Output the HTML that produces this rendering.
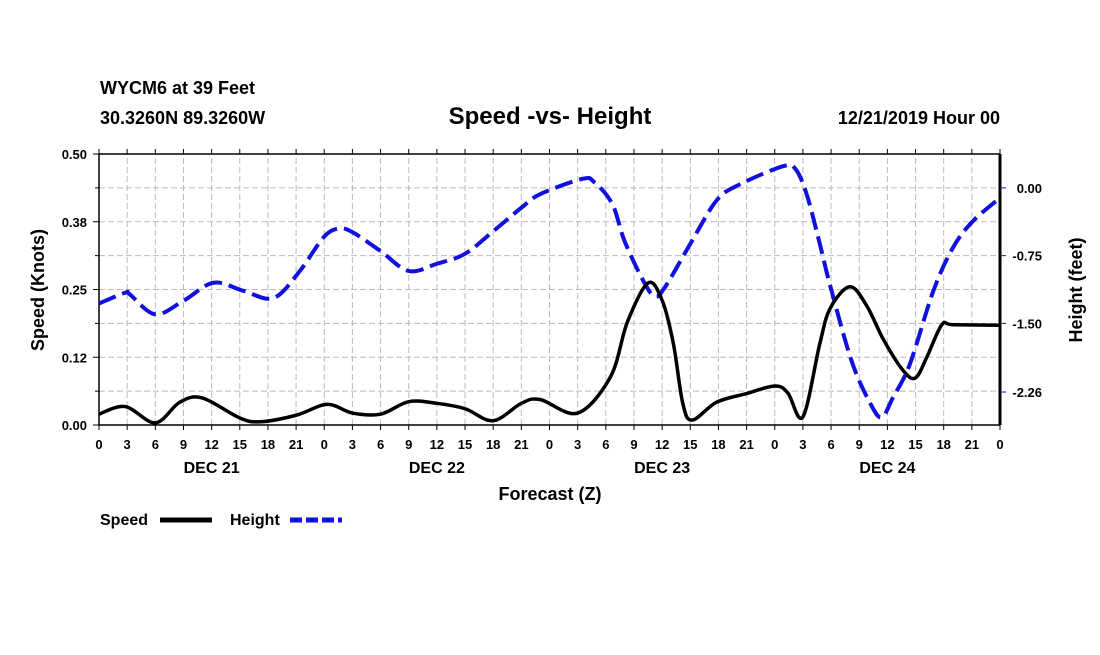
<!DOCTYPE html>
<html><head><meta charset="utf-8"><style>
body{margin:0;background:#fff;}
svg text{font-family:"Liberation Sans",sans-serif;font-weight:bold;fill:#000;}
</style></head><body>
<svg id="c" width="1100" height="650">
<text x="100" y="94" font-size="18">WYCM6 at 39 Feet</text>
<text x="100" y="124" font-size="18">30.3260N 89.3260W</text>
<text x="550" y="124" font-size="24" text-anchor="middle">Speed -vs- Height</text>
<text x="1000" y="124" font-size="18" text-anchor="end">12/21/2019 Hour 00</text>
<g id="grid"></g>
<g id="axes"></g>
<g id="series"></g>
<text x="550" y="500" font-size="18" text-anchor="middle">Forecast (Z)</text>
<text transform="translate(44,290) rotate(-90)" font-size="18" text-anchor="middle">Speed (Knots)</text>
<text transform="translate(1082,290) rotate(-90)" font-size="18" text-anchor="middle">Height (feet)</text>
<g>
<text x="100" y="525" font-size="16">Speed</text>
<line x1="160" y1="520" x2="212" y2="520" stroke="#000" stroke-width="5"/>
<text x="230" y="525" font-size="16">Height</text>
<line x1="290" y1="520" x2="342" y2="520" stroke="#1010e0" stroke-width="5" stroke-dasharray="12,4"/>
</g>
</svg>
<script>
const speedHours=[0,2.8,6,8.6,11,15,17.2,21,24.3,27,30,33,36,39,42,45,47,51,54.5,56.3,58.5,60,61.2,62.2,63.2,65.8,69,72,73.4,75,76.8,77.9,80,81.8,83.6,85.7,87,88.2,89.8,91,96];
const speedValues=[0.02,0.034,0.004,0.042,0.05,0.013,0.006,0.018,0.038,0.022,0.02,0.043,0.04,0.03,0.008,0.04,0.047,0.022,0.089,0.19,0.262,0.23,0.15,0.04,0.009,0.042,0.058,0.072,0.059,0.015,0.15,0.215,0.255,0.22,0.157,0.1,0.087,0.125,0.185,0.185,0.184];
const heightHours=[0,2.8,3.3,6,9,12.2,15.4,18.6,21.4,23.9,25.5,27,30,33,36,39,42,45,47,51.5,52.8,54.7,56,58,59.2,60.3,63,65.8,68.3,72.9,74.2,75.4,76.8,77.9,80.2,82.2,83.4,84.6,86.4,88.9,91,93.1,96];
const heightValues=[-1.28,-1.16,-1.18,-1.4,-1.25,-1.05,-1.14,-1.22,-0.92,-0.55,-0.45,-0.49,-0.7,-0.92,-0.84,-0.73,-0.48,-0.22,-0.07,0.1,0.06,-0.18,-0.59,-1.03,-1.2,-1.1,-0.62,-0.14,0.04,0.24,0.21,-0.07,-0.62,-1.08,-1.92,-2.39,-2.54,-2.32,-1.95,-1.14,-0.66,-0.37,-0.11];
const speedTicks=["0.00","0.12","0.25","0.38","0.50"];
const heightTickValues=[0,-0.75,-1.5,-2.26];
const heightTickLabels=["0.00","-0.75","-1.50","-2.26"];
const dayLabels=["DEC 21","DEC 22","DEC 23","DEC 24"];
const X0=99,X1=1000,Y0=425,Y1=154;
const x=h=>X0+h*(X1-X0)/96;
const yS=v=>Y0-v/0.5*(Y0-Y1);
const yH=f=>yS(0.4375+f/0.75*0.125);
const NS='http://www.w3.org/2000/svg';
function mk(p,t,a){const e=document.createElementNS(NS,t);for(const k in a)e.setAttribute(k,a[k]);p.appendChild(e);return e;}
const grid=document.getElementById('grid'),axes=document.getElementById('axes'),ser=document.getElementById('series');
for(let i=1;i<8;i++){const l=mk(grid,'line',{x1:X0,x2:X1,y1:yS(i*0.0625),y2:yS(i*0.0625),stroke:'#bbb','stroke-dasharray':'6,3'});

}
for(let h=3;h<96;h+=3){const l=mk(grid,'line',{x1:x(h),x2:x(h),y1:Y0,y2:Y1,stroke:'#bbb','stroke-dasharray':'6,3'});

}
mk(axes,'line',{x1:X0,x2:X1,y1:Y1,y2:Y1,stroke:'#000','stroke-width':1.5});
mk(axes,'line',{x1:X0,x2:X1,y1:Y0,y2:Y0,stroke:'#000','stroke-width':1.5});
mk(axes,'line',{x1:X0,x2:X0,y1:Y0,y2:Y1,stroke:'#000','stroke-width':1.5});
mk(axes,'line',{x1:X1,x2:X1,y1:Y0,y2:Y1,stroke:'#000','stroke-width':3});
for(let h=0;h<=96;h+=3){
mk(axes,'line',{x1:x(h),x2:x(h),y1:Y0,y2:Y0+5,stroke:'#000'});
mk(axes,'line',{x1:x(h),x2:x(h),y1:Y1,y2:Y1-5,stroke:'#000'});
const t=mk(axes,'text',{x:x(h),y:Y0+24,'font-size':13,'text-anchor':'middle'});t.textContent=String(h%24);

}
dayLabels.forEach((d,i)=>{const t=mk(axes,'text',{x:x(i*24+12),y:Y0+48,'font-size':16,'text-anchor':'middle'});t.textContent=d;

});
speedTicks.forEach((s,i)=>{const y=yS(i*0.125);mk(axes,'line',{x1:X0-6,x2:X0,y1:y,y2:y,stroke:'#000'});
const t=mk(axes,'text',{x:X0-12,y:y+5,'font-size':13,'text-anchor':'end'});t.textContent=s;

});
for(let i=0;i<4;i++){const y=yS(i*0.125+0.0625);mk(axes,'line',{x1:X0-4,x2:X0,y1:y,y2:y,stroke:'#000'});}
heightTickValues.forEach((v,i)=>{const y=yH(v);mk(axes,'line',{x1:X1,x2:X1+6,y1:y,y2:y,stroke:'#1010e0'});
const t=mk(axes,'text',{x:1042,y:y+5,'font-size':13,'text-anchor':'end'});t.textContent=heightTickLabels[i];

});
function path(xs,ys){const p=xs.map((h,i)=>[x(h),ys[i]]);let d='M'+p[0][0]+','+p[0][1];
for(let i=0;i<p.length-1;i++){const a=p[Math.max(0,i-1)],b=p[i],c=p[i+1],e=p[Math.min(p.length-1,i+2)];
d+=' C'+(b[0]+(c[0]-a[0])/6)+','+(b[1]+(c[1]-a[1])/6)+' '+(c[0]-(e[0]-b[0])/6)+','+(c[1]-(e[1]-b[1])/6)+' '+c[0]+','+c[1];}return d;}
const hp=mk(ser,'path',{d:path(heightHours,heightValues.map(yH)),fill:'none',stroke:'#1010e0','stroke-width':4,'stroke-dasharray':'18,7'});


const sp=mk(ser,'path',{d:path(speedHours,speedValues.map(yS)),fill:'none',stroke:'#000','stroke-width':3.5});


</script>
</body></html>
